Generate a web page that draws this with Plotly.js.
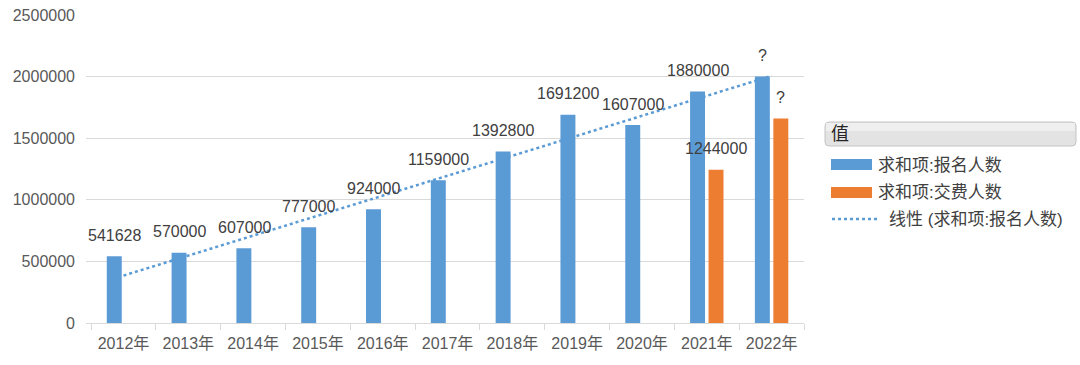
<!DOCTYPE html>
<html><head><meta charset="utf-8">
<script src="https://cdn.plot.ly/plotly-3.0.1.min.js"></script>
<style>html,body{margin:0;padding:0;background:#fff}#chart{width:1080px;height:365px}</style>
</head><body><div id="chart"></div>
<script>
const categories = ["2012年","2013年","2014年","2015年","2016年","2017年","2018年","2019年","2020年","2021年","2022年"];
const signups = [541628, 570000, 607000, 777000, 924000, 1159000, 1392800, 1691200, 1607000, 1880000, 2000000];
const signupLabels = ["541628","570000","607000","777000","924000","1159000","1392800","1691200","1607000","1880000","?"];
const paid = [null, null, null, null, null, null, null, null, null, 1244000, 1660000];
const paidLabels = ["","","","","","","","","","1244000","?"];
const trendX = ["2012年","2022年"];
const trendY = [385000, 2006000];
const seriesNames = ["求和项:报名人数","求和项:交费人数","线性 (求和项:报名人数)"];
const legendTitle = "值";

const BLUE = "#5b9bd5", ORANGE = "#ed7d31";
const FONT = "Liberation Sans, Noto Sans CJK SC, sans-serif";
const L = 86, R = 804, T = 15, B = 323;
const px = x => (x - L) / (R - L);
const py = y => (B - y) / (B - T);

const traces = [
  {type:"bar", x:categories, y:signups, name:seriesNames[0], marker:{color:BLUE}, showlegend:false, hoverinfo:"x+y"},
  {type:"bar", x:categories, y:paid, name:seriesNames[1], marker:{color:ORANGE}, showlegend:false, hoverinfo:"x+y"},
  {type:"scatter", mode:"lines", x:trendX, y:trendY, name:seriesNames[2], line:{color:BLUE, dash:"dot", width:2.5}, showlegend:false, hoverinfo:"skip"}
];

const annotations = [];
categories.forEach((c,i) => {
  if (signups[i] != null) annotations.push({x:c, y:signups[i], xref:"x", yref:"y", text:signupLabels[i], showarrow:false, xshift:-9, yshift:21, yanchor:"middle", font:{family:FONT, size:16, color:"#404040"}});
  if (paid[i] != null) annotations.push({x:c, y:paid[i], xref:"x", yref:"y", text:paidLabels[i], showarrow:false, xshift:9, yshift:21, yanchor:"middle", font:{family:FONT, size:16, color:"#404040"}});
});
// legend (drawn manually)
annotations.push({xref:"paper", yref:"paper", x:px(829), y:py(134), xanchor:"left", yanchor:"middle", text:legendTitle, showarrow:false, font:{family:FONT, size:18, color:"#262626"}});
annotations.push({xref:"paper", yref:"paper", x:px(876), y:py(165), xanchor:"left", yanchor:"middle", text:seriesNames[0], showarrow:false, font:{family:FONT, size:17, color:"#404040"}});
annotations.push({xref:"paper", yref:"paper", x:px(876), y:py(192), xanchor:"left", yanchor:"middle", text:seriesNames[1], showarrow:false, font:{family:FONT, size:17, color:"#404040"}});
annotations.push({xref:"paper", yref:"paper", x:px(887), y:py(219), xanchor:"left", yanchor:"middle", text:seriesNames[2], showarrow:false, font:{family:FONT, size:17, color:"#404040"}});

const x0=825,x1=1076,y0=122,y1=146,r=4;
const hdrPath = `M${px(x0+r)},${py(y0)} L${px(x1-r)},${py(y0)} Q${px(x1)},${py(y0)} ${px(x1)},${py(y0+r)} L${px(x1)},${py(y1-r)} Q${px(x1)},${py(y1)} ${px(x1-r)},${py(y1)} L${px(x0+r)},${py(y1)} Q${px(x0)},${py(y1)} ${px(x0)},${py(y1-r)} L${px(x0)},${py(y0+r)} Q${px(x0)},${py(y0)} ${px(x0+r)},${py(y0)} Z`;
const shapes = [
  {type:"path", xref:"paper", yref:"paper", path:hdrPath, fillcolor:"#e3e3e3", line:{color:"#c4c4c4", width:1}},
  {type:"rect", xref:"paper", yref:"paper", x0:px(826), x1:px(1075), y0:py(123), y1:py(131), fillcolor:"#efefef", line:{width:0}},
  {type:"rect", xref:"paper", yref:"paper", x0:px(831), x1:px(872), y0:py(159), y1:py(170), fillcolor:BLUE, line:{width:0}},
  {type:"rect", xref:"paper", yref:"paper", x0:px(831), x1:px(872), y0:py(187), y1:py(198), fillcolor:ORANGE, line:{width:0}},
  {type:"line", xref:"paper", yref:"paper", x0:px(832), x1:px(880), y0:py(219), y1:py(219), line:{color:BLUE, width:2.5, dash:"dot"}}
];

const layout = {
  width:1080, height:365,
  margin:{l:L, r:1080-R, t:T, b:365-B, pad:0},
  paper_bgcolor:"#fff", plot_bgcolor:"#fff",
  barmode:"group", bargap:0.43, bargroupgap:0.19,
  showlegend:false,
  font:{family:FONT, color:"#595959", size:16},
  xaxis:{type:"category", showgrid:false, showline:true, linecolor:"#d9d9d9", linewidth:1,
         ticks:"outside", tickson:"boundaries", ticklen:6, tickcolor:"#d9d9d9",
         ticklabelstandoff:6, tickfont:{family:FONT, size:16, color:"#595959"}, fixedrange:true},
  yaxis:{range:[0,2500000], dtick:500000, tickformat:"d", showgrid:true, gridcolor:"#d9d9d9", gridwidth:1,
         zeroline:false, showline:false, ticks:"", ticklabelstandoff:10,
         tickfont:{family:FONT, size:16, color:"#595959"}, fixedrange:true},
  annotations, shapes
};

Plotly.newPlot("chart", traces, layout, {displayModeBar:false, staticPlot:true});
</script>
</body></html>
